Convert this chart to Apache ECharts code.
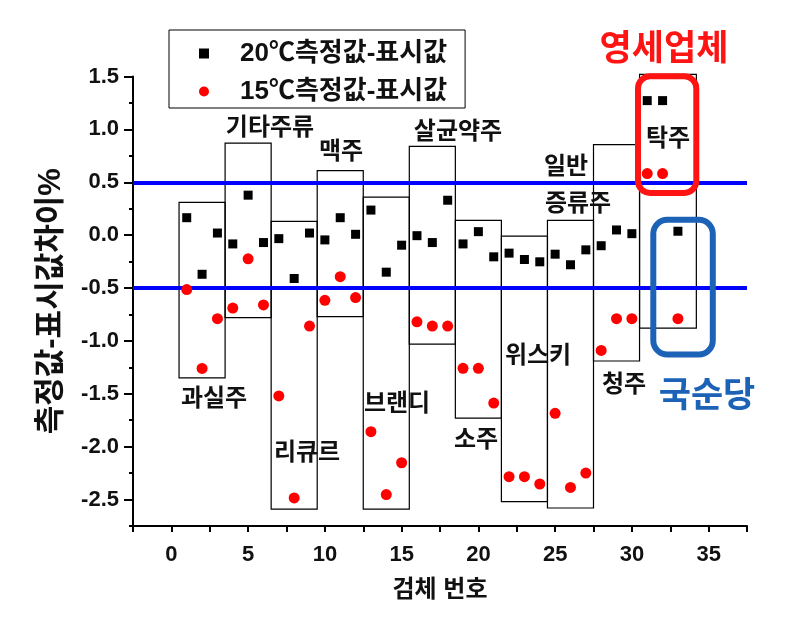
<!DOCTYPE html>
<html>
<head>
<meta charset="utf-8">
<script src="https://cdn.jsdelivr.net/npm/echarts@6/dist/echarts.min.js"></script>
<style>
html,body{margin:0;padding:0;background:#fff;}
#chart{width:807px;height:626px;}
</style>
</head>
<body>
<div id="chart"></div>
<script>
// ---------- data ----------
const sampleNo = [1,2,3,4,5,6,7,8,9,10,11,12,13,14,15,16,17,18,19,20,21,22,23,24,25,26,27,28,29,30,31,32,33];
const diff20 = [0.165,-0.37,0.02,-0.083,0.378,-0.07,-0.033,-0.41,0.02,-0.045,0.165,0.008,0.237,-0.35,-0.095,-0.005,-0.07,0.33,-0.083,0.033,-0.205,-0.17,-0.23,-0.252,-0.18,-0.28,-0.139,-0.10,0.049,0.014,1.272,1.272,0.037];
const diff15 = [-0.515,-1.26,-0.79,-0.69,-0.224,-0.66,-1.52,-2.485,-0.86,-0.616,-0.393,-0.59,-1.858,-2.453,-2.152,-0.82,-0.86,-0.86,-1.259,-1.259,-1.588,-2.284,-2.284,-2.353,-1.685,-2.385,-2.25,-1.09,-0.79,-0.79,0.582,0.582,-0.79];
const seriesNames = ['20℃측정값-표시값','15℃측정값-표시값'];
const groupNames = ['과실주','기타주류','리큐르','맥주','브랜디','살균약주','소주','위스키','일반 증류주','청주','탁주'];
const boxStart = [0.5,3.5,6.5,9.5,12.5,15.5,18.5,21.5,24.5,27.5,30.5];
const boxEnd   = [3.5,6.5,9.5,12.5,15.5,18.5,21.5,24.5,27.5,30.5,34.2];
const boxLow   = [-1.35,-0.78,-2.59,-0.77,-2.59,-1.03,-1.73,-2.52,-2.58,-1.19,-0.88];
const boxHigh  = [0.31,0.87,0.13,0.61,0.36,0.84,0.14,-0.01,0.14,0.855,1.52];
const thresholds = [0.5,-0.5];
const xTickLabels = [0,5,10,15,20,25,30,35];
const yTickLabels = [-2.5,-2.0,-1.5,-1.0,-0.5,0.0,0.5,1.0,1.5];
const annotations = ['영세업체','국순당'];

// ---------- build ----------
const FONT = '"Liberation Sans", "Noto Sans CJK KR", sans-serif';
const pts20 = sampleNo.map((x,i)=>[x,diff20[i]]);
const pts15 = sampleNo.map((x,i)=>[x,diff15[i]]);
const boxes = groupNames.map((n,i)=>[boxStart[i],boxEnd[i],boxLow[i],boxHigh[i]]);

const chart = echarts.init(document.getElementById('chart'), null, {renderer:'canvas'});

// label placements (pixel, annotation layer)
const groupLabelPos = [
  [214,399],[270,128],[307,453],[341,152],[397,404],[458,132],[476,440],[538,356],null,[624,385],[668,139]
];
const LBL = 'bold 24px '+FONT;
const labelGraphics = [];
groupNames.forEach((n,i)=>{
  if (i===8) {
    const parts = n.split(' ');
    labelGraphics.push({type:'text', x:566, y:167, z:50, style:{text:parts[0], font:LBL, fill:'#111', textAlign:'center', textVerticalAlign:'middle'}});
    labelGraphics.push({type:'text', x:578, y:204, z:50, style:{text:parts[1], font:LBL, fill:'#111', textAlign:'center', textVerticalAlign:'middle'}});
  } else {
    const p = groupLabelPos[i];
    labelGraphics.push({type:'text', x:p[0], y:p[1], z:50, style:{text:n, font:LBL, fill:'#111', textAlign:'center', textVerticalAlign:'middle'}});
  }
});
labelGraphics.push({type:'text', x:664, y:50, z:50, style:{text:annotations[0], font:'bold 35px '+FONT, fill:'#ff1414', textAlign:'center', textVerticalAlign:'middle'}});
labelGraphics.push({type:'text', x:707, y:397, z:50, style:{text:annotations[1], font:'bold 35px '+FONT, fill:'#1c63b7', textAlign:'center', textVerticalAlign:'middle'}});
labelGraphics.push({type:'rect', z:60, shape:{x:638, y:76.3, width:58.3, height:116.7, r:12}, style:{fill:'none', stroke:'#ff1414', lineWidth:6}});
labelGraphics.push({type:'rect', z:60, shape:{x:653.3, y:219.7, width:59.5, height:134.8, r:14}, style:{fill:'none', stroke:'#1c63b7', lineWidth:6}});

const option = {
  backgroundColor:'#fff',
  animation:false,
  grid:{left:133, right:60, top:76.5, bottom:100},
  legend:{
    orient:'vertical', left:169, top:30,
    data:[{name:seriesNames[0], icon:'rect'},{name:seriesNames[1], icon:'circle'}],
    itemWidth:10, itemHeight:10, itemGap:11,
    borderColor:'#000', borderWidth:1, borderRadius:0,
    padding:[10,18,3,30],
    textStyle:{fontFamily:FONT, fontWeight:'bold', fontSize:26, color:'#111', lineHeight:27, padding:[0,0,0,26]}
  },
  xAxis:[{
    type:'value', min:-2.5, max:37.5, interval:2.5,
    name:'검체 번호', nameLocation:'middle', nameGap:52,
    nameTextStyle:{fontFamily:FONT, fontWeight:'bold', fontSize:24, color:'#111'},
    axisLine:{show:true, onZero:false, lineStyle:{color:'#000', width:2}},
    axisTick:{show:true, length:6, lineStyle:{color:'#000', width:2}},
    axisLabel:{fontFamily:FONT, fontWeight:'bold', fontSize:22, color:'#111', margin:18,
      formatter:v=> xTickLabels.indexOf(Math.round(v*100)/100)>=0 ? String(Math.round(v)) : ''},
    splitLine:{show:false}
  }],
  yAxis:[{
    type:'value', min:-2.75, max:1.5, interval:0.25,
    name:'측정값-표시값차이%', nameLocation:'middle', nameGap:66, nameRotate:90,
    nameTextStyle:{fontFamily:FONT, fontWeight:'bold', fontSize:31, color:'#111'},
    axisLine:{show:true, onZero:false, lineStyle:{color:'#000', width:2}},
    axisTick:{show:true, length:4, lineStyle:{color:'#000', width:2}},
    axisLabel:{fontFamily:FONT, fontWeight:'bold', fontSize:22, color:'#111', margin:14,
      formatter:v=>{ const r=Math.round(v*100)/100; return yTickLabels.indexOf(r)>=0 ? r.toFixed(1) : ''; }},
    splitLine:{show:false}
  },{
    type:'value', min:-2.75, max:1.5, position:'left', offset:0,
    axisLine:{show:false, onZero:false},
    axisTick:{show:true, length:9, lineStyle:{color:'#000', width:2}, customValues:yTickLabels},
    axisLabel:{show:false, customValues:yTickLabels},
    splitLine:{show:false}
  }],
  graphic: labelGraphics,
  series:[
    {
      type:'custom', name:'boxes', z:1,
      data:boxes,
      encode:{x:[0,1], y:[2,3]},
      renderItem:(params, api)=>{
        const p0 = api.coord([api.value(0), api.value(3)]);
        const p1 = api.coord([api.value(1), api.value(2)]);
        return {type:'rect', shape:{x:p0[0], y:p0[1], width:p1[0]-p0[0], height:p1[1]-p0[1]},
          style:{fill:'none', stroke:'#000', lineWidth:1.2}};
      },
      silent:true
    },
    {
      type:'scatter', name:seriesNames[0], data:pts20, symbol:'rect', symbolSize:9, z:5,
      itemStyle:{color:'#000', opacity:1},
      markLine:{
        silent:true, symbol:'none', z:3,
        lineStyle:{color:'#0000ff', width:4, type:'solid', opacity:1},
        label:{show:false},
        data:thresholds.map(t=>({yAxis:t}))
      }
    },
    {
      type:'scatter', name:seriesNames[1], data:pts15, symbol:'circle', symbolSize:11, z:4,
      itemStyle:{color:'#ff0000', opacity:1}
    }
  ]
};
chart.setOption(option);
</script>
</body>
</html>
